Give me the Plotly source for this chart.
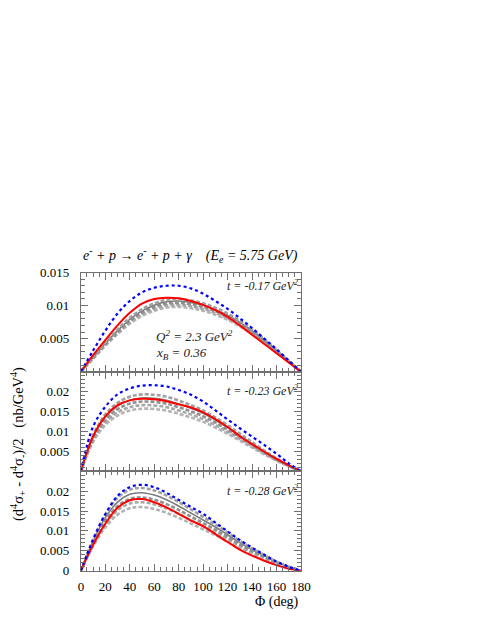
import plotly.graph_objects as go
from plotly.subplots import make_subplots

phi = [0, 10, 20, 30, 40, 50, 60, 70, 80, 90, 100, 110, 120, 130, 140, 150, 160, 170, 180]

# Panel 1: t = -0.17 GeV^2
blue_1 = [0, 0.0032, 0.0062, 0.0088, 0.0107, 0.0120, 0.0127, 0.0130, 0.0130, 0.0126, 0.0118,
          0.0107, 0.0095, 0.0081, 0.0066, 0.0050, 0.0034, 0.0017, 0]
red_1 = [0, 0.0025, 0.0048, 0.0070, 0.0089, 0.0103, 0.0110, 0.0112, 0.0111, 0.0107, 0.0101,
         0.0093, 0.0083, 0.0070, 0.0056, 0.0042, 0.0028, 0.0014, 0]
gray_1 = [
    [0, .00196, .00392, .00568, .00725, .00843, .00921, .00970, .00980, .00960, .00921, .00862, .00784, .00686, .00568, .00441, .00294, .00147, 0],
    [0, .00202, .00404, .00586, .00747, .00869, .00949, .01000, .01010, .00990, .00949, .00889, .00808, .00707, .00586, .00455, .00303, .00152, 0],
    [0, .00208, .00416, .00603, .00770, .00894, .00978, .01030, .01040, .01019, .00978, .00915, .00832, .00728, .00603, .00468, .00312, .00156, 0],
    [0, .00214, .00428, .00621, .00792, .00920, .01006, .01059, .01070, .01049, .01006, .00942, .00856, .00749, .00621, .00482, .00321, .00161, 0],
    [0, .00220, .00440, .00638, .00814, .00946, .01034, .01089, .01100, .01078, .01034, .00968, .00880, .00770, .00638, .00495, .00330, .00165, 0],
]

# Panel 2: t = -0.23 GeV^2
blue_2 = [0, 0.0112, 0.0162, 0.0193, 0.0208, 0.0215, 0.0216, 0.0213, 0.0204, 0.0192, 0.0175,
          0.0153, 0.0130, 0.0108, 0.0087, 0.0066, 0.0044, 0.0020, 0]
red_2 = [0, 0.0088, 0.0138, 0.0166, 0.0178, 0.0182, 0.0181, 0.0176, 0.0168, 0.0160, 0.0148,
         0.0131, 0.0111, 0.0088, 0.0068, 0.0049, 0.0031, 0.0015, 0]
gray_2 = [
    [0, .00738, .01162, .01397, .01523, .01570, .01562, .01523, .01444, .01350, .01240, .01099, .00942, .00769, .00597, .00424, .00267, .00126, 0],
    [0, .00780, .01228, .01477, .01610, .01660, .01652, .01610, .01527, .01428, .01311, .01162, .00996, .00813, .00631, .00448, .00282, .00133, 0],
    [0, .00823, .01295, .01558, .01698, .01750, .01741, .01698, .01610, .01505, .01383, .01225, .01050, .00858, .00665, .00473, .00298, .00140, 0],
    [0, .00865, .01362, .01638, .01785, .01840, .01831, .01785, .01693, .01582, .01454, .01288, .01104, .00902, .00699, .00497, .00313, .00147, 0],
    [0, .00907, .01428, .01718, .01872, .01930, .01920, .01872, .01776, .01660, .01525, .01351, .01158, .00946, .00733, .00521, .00328, .00154, 0],
]

# Panel 3: t = -0.28 GeV^2
blue_3 = [0, 0.0078, 0.0142, 0.0188, 0.0210, 0.0216, 0.0210, 0.0196, 0.0178, 0.0160, 0.0143,
          0.0121, 0.0099, 0.0077, 0.0058, 0.0040, 0.0023, 0.0010, 0]
red_3 = [0, 0.0065, 0.0118, 0.0158, 0.0177, 0.0180, 0.0172, 0.0159, 0.0143, 0.0126, 0.0112,
         0.0092, 0.0072, 0.0053, 0.0038, 0.0025, 0.0014, 0.0005, 0]
gray_3 = [
    [0, .00608, .01088, .01408, .01568, .01600, .01552, .01456, .01328, .01184, .01040, .00896, .00736, .00576, .00432, .00304, .00176, .00080, 0],
    [0, .00654, .01170, .01514, .01686, .01720, .01668, .01565, .01428, .01273, .01118, .00963, .00791, .00619, .00464, .00327, .00189, .00086, 0],
    [0, .00699, .01251, .01619, .01803, .01840, .01785, .01674, .01527, .01362, .01196, .01030, .00846, .00662, .00497, .00350, .00202, .00092, 0],
    [0, .00745, .01333, .01725, .01921, .01960, .01901, .01784, .01627, .01450, .01274, .01098, .00902, .00706, .00529, .00372, .00216, .00098, 0],
    [0, .00790, .01414, .01830, .02038, .02080, .02018, .01893, .01726, .01539, .01352, .01165, .00957, .00749, .00562, .00395, .00229, .00104, 0],
]

t_labels = ["t = -0.17 GeV<sup>2</sup>", "t = -0.23 GeV<sup>2</sup>", "t = -0.28 GeV<sup>2</sup>"]
x_ticks = [0, 20, 40, 60, 80, 100, 120, 140, 160, 180]
y_ticks_1 = [0.005, 0.01, 0.015]
y_ticks_2 = [0.005, 0.01, 0.015, 0.02]
y_ticks_3 = [0, 0.005, 0.01, 0.015, 0.02]
y_ranges = [[0, 0.015], [0, 0.025], [0, 0.025]]

gray_colors = ["#b4b4b4", "#a8a8a8", "#909090", "#7c7c7c", "#a0a0a0"]
gray_dash = ["4px,2px", "4px,2px", "4px,2px", "solid", "4px,2px"]
gray_width = [2.6, 2.6, 2.6, 1.6, 2.6]

FONT = "Liberation Serif"

fig = make_subplots(rows=3, cols=1, shared_xaxes=True, vertical_spacing=0)

panels = [(blue_1, red_1, gray_1), (blue_2, red_2, gray_2), (blue_3, red_3, gray_3)]
for i, (b, r, gs) in enumerate(panels, start=1):
    for k, g in enumerate(gs):
        fig.add_trace(go.Scatter(x=phi, y=g, mode="lines", line_shape="spline",
                                 line=dict(color=gray_colors[k], width=gray_width[k], dash=gray_dash[k]),
                                 showlegend=False, hoverinfo="skip"), row=i, col=1)
    fig.add_trace(go.Scatter(x=phi, y=r, mode="lines", line_shape="spline",
                             line=dict(color="#ff0000", width=2),
                             showlegend=False), row=i, col=1)
    fig.add_trace(go.Scatter(x=phi, y=b, mode="lines", line_shape="spline",
                             line=dict(color="#0000ff", width=2.2, dash="dot"),
                             showlegend=False), row=i, col=1)

x_dom = [80 / 491, 306 / 491]
y_doms = [[0.4118, 0.5717], [0.2512, 0.4118], [0.0909, 0.2512]]
y_tickvals = [y_ticks_1, y_ticks_2, y_ticks_3]

axcol = "#707070"
for i in range(1, 4):
    xa = "xaxis" if i == 1 else f"xaxis{i}"
    ya = "yaxis" if i == 1 else f"yaxis{i}"
    fig.layout[xa].update(
        domain=x_dom, range=[0, 180], showline=True, linecolor=axcol, linewidth=1,
        mirror="ticks", ticks="inside", ticklen=7, tickcolor=axcol,
        tickvals=x_ticks, ticktext=[str(v) for v in x_ticks],
        showticklabels=(i == 3), showgrid=False, zeroline=False,
        tickfont=dict(family=FONT, size=13, color="black"), ticklabelstandoff=4,
        minor=dict(dtick=5, ticks="inside", ticklen=4, tickcolor=axcol, showgrid=False),
    )
    tv = y_tickvals[i - 1]
    fig.layout[ya].update(
        domain=y_doms[i - 1], range=y_ranges[i - 1], showline=True, linecolor=axcol, linewidth=1,
        mirror="ticks", ticks="inside", ticklen=7, tickcolor=axcol,
        tickvals=tv, ticktext=[("0" if v == 0 else f"{v:g}") for v in tv],
        showgrid=False, zeroline=False,
        tickfont=dict(family=FONT, size=13, color="black"), ticklabelstandoff=8,
        minor=dict(dtick=0.001, tick0=0, ticks="inside", ticklen=4, tickcolor=axcol, showgrid=False),
    )

annots = []
t_y = [285, 393, 495]
for k, txt in enumerate(t_labels):
    annots.append(dict(text="<i>" + txt + "</i>", x=305 / 491, y=1 - t_y[k] / 635, xref="paper", yref="paper",
                       xanchor="right", yanchor="middle", showarrow=False,
                       font=dict(family=FONT, size=12, color="#222")))
annots.append(dict(text="<i>Q<sup>2</sup> = 2.3 GeV<sup>2</sup></i>", x=155 / 491, y=1 - 337 / 635,
                   xref="paper", yref="paper", xanchor="left", yanchor="middle", showarrow=False,
                   font=dict(family=FONT, size=13, color="#222")))
annots.append(dict(text="<i>x<sub>B</sub> = 0.36</i>", x=155 / 491, y=1 - 355 / 635,
                   xref="paper", yref="paper", xanchor="left", yanchor="middle", showarrow=False,
                   font=dict(family=FONT, size=13, color="#222")))
annots.append(dict(text="<i>e<sup>-</sup> + p \u2192 e<sup>-</sup> + p + \u03b3    (E<sub>e</sub> = 5.75 GeV)</i>",
                   x=80 / 491, y=1 - 254 / 635, xref="paper", yref="paper",
                   xanchor="left", yanchor="middle", showarrow=False,
                   font=dict(family=FONT, size=14, color="black")))
annots.append(dict(text="(d<sup>4</sup>\u03c3<sub>+</sub> - d<sup>4</sup>\u03c3<sub>-</sub>)/2   (nb/GeV<sup>4</sup>)",
                   x=16 / 491, y=1 - 448 / 635, xref="paper", yref="paper",
                   xanchor="center", yanchor="middle", textangle=-90, showarrow=False,
                   font=dict(family=FONT, size=14.5, color="black")))
annots.append(dict(text="\u03a6 (deg)", x=306 / 491, y=1 - 609 / 635, xref="paper", yref="paper",
                   xanchor="right", yanchor="middle", showarrow=False,
                   font=dict(family=FONT, size=14, color="black")))

fig.update_layout(
    width=491, height=635, margin=dict(l=0, r=0, t=0, b=0),
    paper_bgcolor="white", plot_bgcolor="white", showlegend=False,
    font=dict(family=FONT, size=13, color="black"),
    annotations=annots,
)

fig.write_html("out.html", config={"displayModeBar": False},
               post_script="document.body.style.margin='0';document.body.style.padding='0';")
